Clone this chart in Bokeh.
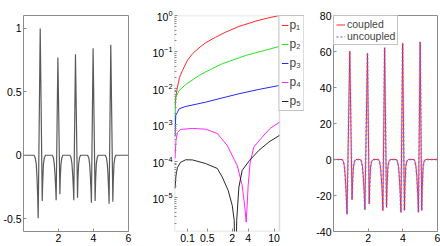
import numpy as np
from bokeh.plotting import figure
from bokeh.layouts import row
from bokeh.models import (Range1d, FixedTicker, CustomJSTickFormatter,
                          Legend, LegendItem, BoxAnnotation)
from bokeh.embed import file_html
from bokeh.resources import INLINE

# ---------------- data: panel 1 (signal) ----------------
sig_x = [0.0,
         0.60, 0.67, 0.73, 0.77, 0.81, 0.84, 0.955, 1.07, 1.10, 1.14, 1.19, 1.26,
         1.64, 1.71, 1.76, 1.80, 1.84, 1.866, 1.965, 2.08, 2.10, 2.14, 2.19, 2.25,
         2.65, 2.72, 2.77, 2.81, 2.85, 2.874, 2.97, 3.087, 3.11, 3.15, 3.20, 3.26,
         3.66, 3.73, 3.78, 3.82, 3.86, 3.88, 3.977, 4.093, 4.12, 4.16, 4.21, 4.27,
         4.67, 4.74, 4.79, 4.83, 4.87, 4.89, 4.988, 5.105, 5.13, 5.17, 5.22, 5.28,
         6.0]
sig_y = [0.0,
         0.0, -0.02, -0.07, -0.17, -0.32, -0.496, 0.997, -0.36, -0.20, -0.07, -0.02, 0.0,
         0.0, -0.02, -0.07, -0.15, -0.26, -0.354, 0.769, -0.307, -0.18, -0.07, -0.02, 0.0,
         0.0, -0.02, -0.07, -0.15, -0.26, -0.354, 0.795, -0.334, -0.19, -0.07, -0.02, 0.0,
         0.0, -0.02, -0.07, -0.16, -0.28, -0.373, 0.842, -0.360, -0.20, -0.07, -0.02, 0.0,
         0.0, -0.02, -0.07, -0.16, -0.29, -0.381, 0.869, -0.365, -0.20, -0.07, -0.02, 0.0,
         0.0]

# ---------------- data: panel 2 (p1..p5, log scale) ----------------
p1_x = [0.0226, 0.0260, 0.0319, 0.0412, 0.0588, 0.100, 0.160, 0.2775, 0.448, 0.8416,
        1.451, 2.726, 5.295, 8.435, 11.8]
p1_y = [3.42e-3, 6.4e-3, 1.09e-2, 2.0e-2, 3.1e-2, 5.9e-2, 8.9e-2, 0.130, 0.179, 0.254,
        0.349, 0.50, 0.698, 0.865, 1.0]
p2_x = [0.0226, 0.0253, 0.0397, 0.0841, 0.2775, 0.691, 1.2224, 3.595, 6.729, 11.8]
p2_y = [1.33e-3, 5.8e-3, 8.8e-3, 1.29e-2, 2.27e-2, 3.53e-2, 4.75e-2, 8.0e-2, 0.106, 0.1415]
p3_x = [0.0226, 0.0253, 0.0397, 0.0841, 0.448, 1.2224, 2.726, 5.99, 11.8]
p3_y = [4.84e-4, 1.82e-3, 2.78e-3, 3.21e-3, 4.21e-3, 5.5e-3, 7.16e-3, 9.4e-3, 1.21e-2]
p4_x = [0.0226, 0.0260, 0.0319, 0.0466, 0.160, 0.4388, 0.928, 1.581, 2.529, 3.138,
        3.553, 3.70, 3.851, 4.008, 4.334, 4.99, 6.729, 8.80, 11.8]
p4_y = [1.21e-4, 3.76e-4, 6.24e-4, 7.53e-4, 8.02e-4, 7.67e-4, 5.85e-4, 2.74e-4, 7.76e-5,
        2.2e-5, 4.55e-6, 2.17e-6, 6.23e-6, 2.2e-5, 9.4e-5, 2.47e-4, 4.63e-4, 8.0e-4, 1.19e-3]
p5_x = [0.0226, 0.0260, 0.0319, 0.0466, 0.0841, 0.160, 0.4388, 0.928, 1.2224, 1.656,
        2.0135, 2.21, 2.344, 2.473, 2.726, 3.138, 4.217, 5.99, 8.43, 11.8]
p5_y = [1.82e-5, 4.13e-5, 6.85e-5, 9.4e-5, 1.11e-4, 1.10e-4, 8.8e-5, 6.43e-5, 3.71e-5, 1.6e-5,
        6.2e-6, 2.42e-6, 1e-8, 2.4e-6, 1.98e-5, 5.67e-5, 1.06e-4, 2.0e-4, 3.38e-4, 5.16e-4]
p_labels = ["p\u2081", "p\u2082", "p\u2083", "p\u2084", "p\u2085"]
p_x_ticks = [0.1, 0.5, 2, 4, 10]
p_x_tick_labels = ["0.1", "0.5", "2", "4", "10"]

# ---------------- data: panel 3 (coupled / uncoupled) ----------------
cu_x = [0.0,
        0.50, 0.57, 0.63, 0.68, 0.73, 0.78, 0.94, 1.07, 1.10, 1.15, 1.21, 1.30,
        1.55, 1.61, 1.67, 1.72, 1.77, 1.81, 1.96, 2.06, 2.09, 2.14, 2.20, 2.28,
        2.59, 2.65, 2.71, 2.76, 2.81, 2.85, 2.95, 3.06, 3.09, 3.14, 3.20, 3.28,
        3.63, 3.69, 3.75, 3.80, 3.85, 3.89, 3.99, 4.09, 4.12, 4.17, 4.23, 4.31,
        4.64, 4.70, 4.76, 4.81, 4.86, 4.90, 5.00, 5.09, 5.12, 5.17, 5.23, 5.31,
        6.0]
coupled_y = [0.0,
             0, -1, -4, -10, -19, -30.2, 60.2, -22.4, -13, -4, -1, 0,
             0, -1, -4, -10, -18, -27.8, 59.0, -24.6, -14, -4, -1, 0,
             0, -1, -4, -10, -18, -28.3, 62.0, -26.5, -15, -4, -1, 0,
             0, -1, -4, -10, -19, -29.3, 64.6, -28.3, -16, -4, -1, 0,
             0, -1, -4, -10, -19, -29.3, 65.2, -28.3, -16, -4, -1, 0,
             0.0]
uncoupled_y = [0.0,
               0, -1, -4, -10, -19, -30.5, 60.0, -22.0, -13, -4, -1, 0,
               0, -1, -4, -10, -18, -28.0, 59.3, -24.8, -14, -4, -1, 0,
               0, -1, -4, -10, -18, -28.5, 62.3, -26.8, -15, -4, -1, 0,
               0, -1, -4, -10, -19, -29.5, 64.8, -28.5, -16, -4, -1, 0,
               0, -1, -4, -10, -19, -29.6, 65.4, -28.6, -16, -4, -1, 0,
               0.0]

FONT = "Liberation Sans"
FS = "10.5px"
GRAY = "#8c8c8c"
FH = 216
TOP = 15
BOT = 14


def style(p):
    p.outline_line_color = GRAY
    p.outline_line_width = 1
    p.background_fill_color = "white"
    p.border_fill_color = "white"
    p.xgrid.visible = False
    p.ygrid.visible = False
    for ax in p.axis:
        ax.axis_line_color = None
        ax.major_tick_in = 3
        ax.major_tick_out = 0
        ax.minor_tick_in = 0
        ax.minor_tick_out = 0
        ax.major_tick_line_color = GRAY
        ax.minor_tick_line_color = GRAY
        ax.major_label_text_font = FONT
        ax.major_label_text_font_size = FS
        ax.major_label_text_color = "black"
        ax.major_label_standoff = 2


plain = CustomJSTickFormatter(code="return tick.toString();")

# ---------------- figure 1 ----------------
f1 = figure(frame_width=105, frame_height=FH, x_range=Range1d(0, 6), y_range=Range1d(-0.6, 1.1),
            min_border_left=22, min_border_right=21, min_border_top=TOP, min_border_bottom=BOT,
            toolbar_location=None, output_backend="svg")
f1.line(sig_x, sig_y, line_color="#5a5a5a", line_width=1.2)
f1.xaxis.ticker = FixedTicker(ticks=[2, 4, 6])
f1.yaxis.ticker = FixedTicker(ticks=[-0.5, 0, 0.5, 1])
f1.xaxis.formatter = plain
f1.yaxis.formatter = plain
style(f1)

# ---------------- figure 2 ----------------
# axes box is 105 px wide; the frame is widened by 25 px to host the legend outside the box
BOXW, LEGW = 105, 25
u_lo, u_hi = 0.021 ** 0.25, 11.84 ** 0.25
u_ext = u_hi + LEGW * (u_hi - u_lo) / BOXW
y_lo, y_hi = 1.2e-6, 1.0
f2 = figure(frame_width=BOXW + LEGW, frame_height=FH, x_range=Range1d(u_lo, u_ext),
            y_range=Range1d(y_lo, y_hi), y_axis_type="log",
            min_border_left=24, min_border_right=7, min_border_top=TOP, min_border_bottom=BOT,
            toolbar_location=None, output_backend="svg")
colors = ["#ff0000", "#00dd00", "#0000ff", "#ff00ff", "#000000"]
series = [(p1_x, p1_y), (p2_x, p2_y), (p3_x, p3_y), (p4_x, p4_y), (p5_x, p5_y)]
rends = []
for (xs, ys), c in zip(series, colors):
    r = f2.line(np.array(xs) ** 0.25, ys, line_color=c, line_width=1, line_alpha=0.85)
    rends.append(r)
f2.xaxis.ticker = FixedTicker(ticks=[t ** 0.25 for t in p_x_ticks])
f2.xaxis.formatter = CustomJSTickFormatter(args=dict(labels=p_x_tick_labels),
                                           code="return labels[index];")
minors = [k * 10.0 ** e for e in range(-6, 0) for k in range(2, 10)]
f2.yaxis.ticker = FixedTicker(ticks=[1e-5, 1e-4, 1e-3, 1e-2, 1e-1, 1.0], minor_ticks=minors)
style(f2)
f2.outline_line_color = None
f2.yaxis.minor_tick_in = 2
f2.add_layout(BoxAnnotation(left=u_lo, right=u_hi, bottom=y_lo, top=y_hi,
                            fill_alpha=0, line_color=GRAY, line_width=1.5))
leg2 = Legend(items=[LegendItem(label=l, renderers=[r]) for l, r in zip(p_labels, rends)],
              location="top_right", margin=0, padding=2, spacing=5,
              glyph_width=7, glyph_height=12, label_height=12, label_width=8, label_standoff=1,
              label_text_font=FONT, label_text_font_size="12px",
              border_line_color="#888888", border_line_width=1, background_fill_color="white")
f2.add_layout(leg2)

# ---------------- figure 3 ----------------
f3 = figure(frame_width=104, frame_height=FH, x_range=Range1d(0, 6), y_range=Range1d(-40, 80),
            min_border_left=22, min_border_right=4, min_border_top=TOP, min_border_bottom=BOT,
            toolbar_location=None, output_backend="svg")
rc = f3.line(cu_x, coupled_y, line_color="#ff0000", line_width=1, line_alpha=0.85)
ru = f3.line(cu_x, uncoupled_y, line_color="#6f6fff", line_width=2, line_dash="2 2", line_alpha=0.6)
f3.xaxis.ticker = FixedTicker(ticks=[2, 4, 6])
f3.yaxis.ticker = FixedTicker(ticks=[-40, -20, 0, 20, 40, 60, 80])
f3.xaxis.formatter = plain
f3.yaxis.formatter = plain
style(f3)
leg3 = Legend(items=[LegendItem(label="coupled", renderers=[rc]),
                     LegendItem(label="uncoupled", renderers=[ru])],
              location="top_left", margin=0, padding=2, spacing=0,
              glyph_width=9, glyph_height=11, label_height=11, label_standoff=2,
              label_text_font=FONT, label_text_font_size=FS,
              border_line_color="#888888", border_line_width=1, background_fill_color="white")
f3.add_layout(leg3)

layout = row(f1, f2, f3, spacing=0)
open("out.html", "w").write(file_html(layout, INLINE))
